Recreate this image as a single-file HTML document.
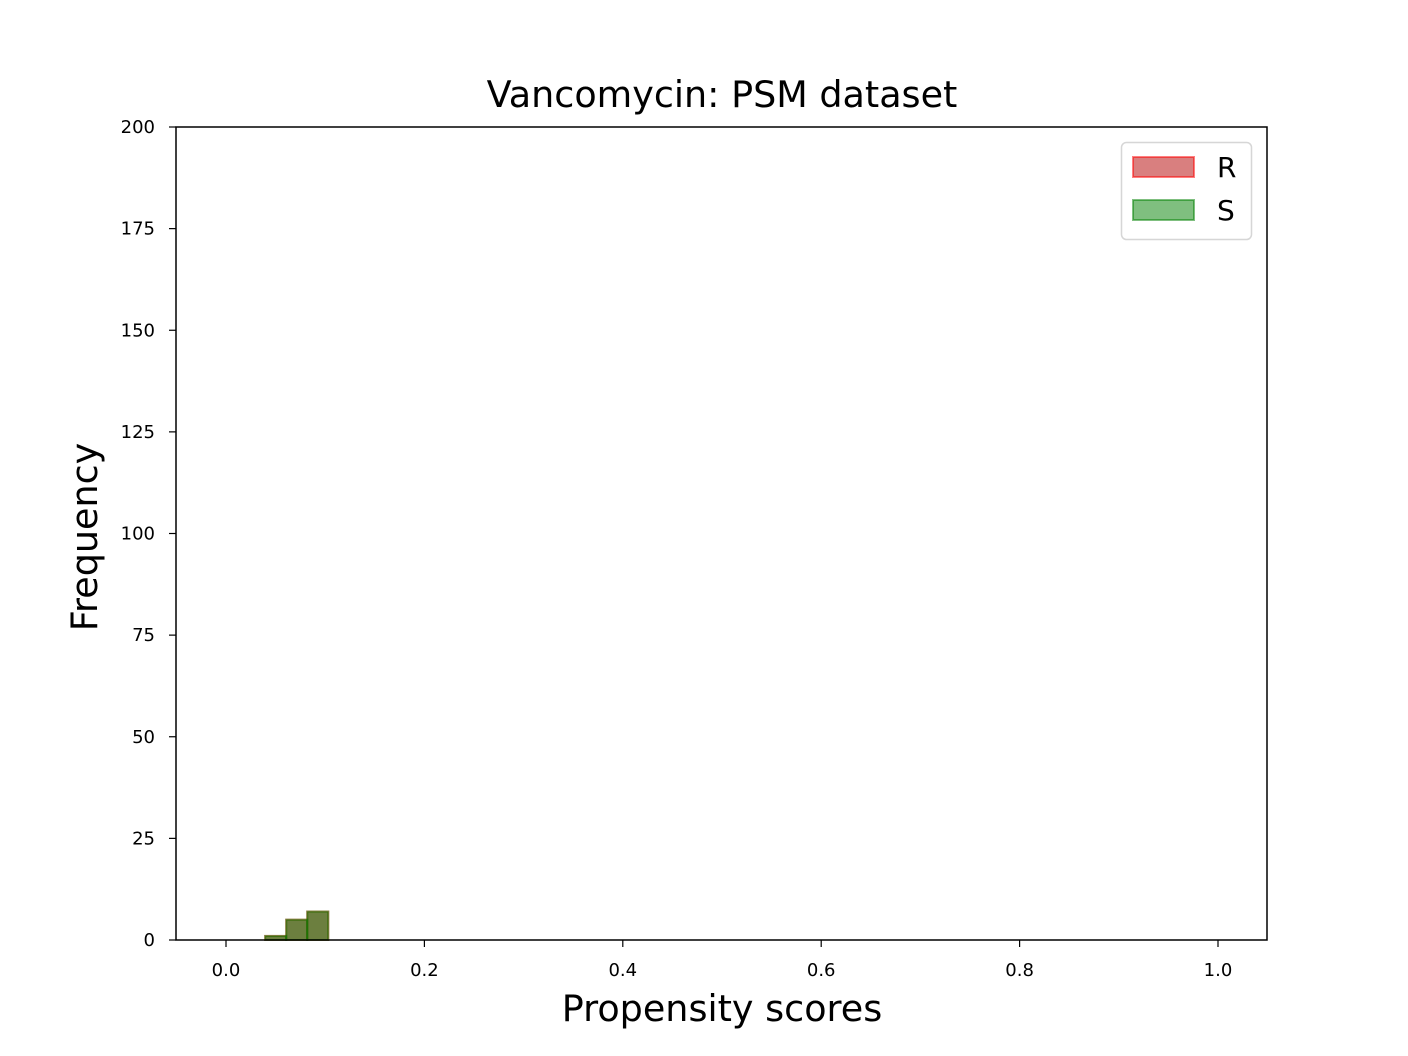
<!DOCTYPE html>
<html><head><meta charset="utf-8"><style>
body{margin:0;background:#fff}
svg{display:block;font-family:"DejaVu Sans","Liberation Sans",sans-serif}
</style></head><body>
<svg id="chart" width="1408" height="1056">
<text x="722" y="107" font-size="36.5" text-anchor="middle">Vancomycin: PSM dataset</text>
<g id="bars"></g>
<rect x="176" y="127" width="1091" height="813" fill="none" stroke="#000" stroke-width="1.5"/>
<g id="xticks"></g>
<g id="yticks"></g>
<text x="722" y="1021" font-size="36.5" text-anchor="middle">Propensity scores</text>
<text transform="translate(97,537) rotate(-90)" font-size="36.5" text-anchor="middle">Frequency</text>
<g>
<rect x="1121.5" y="142.5" width="130" height="97" rx="5" fill="#fff" stroke="#d6d6d6" stroke-width="1.5"/>
<rect x="1133" y="157" width="61" height="20" fill="rgba(180,0,0,0.5)" stroke="rgba(255,0,0,0.5)" stroke-width="2"/>
<text x="1217" y="177" font-size="28">R</text>
<rect x="1133" y="200" width="61" height="20" fill="rgba(0,128,0,0.5)" stroke="rgba(0,128,0,0.5)" stroke-width="2"/>
<text x="1217" y="220" font-size="28">S</text>
</g>
</svg>
<script>
const binStarts=[0.0395,0.0607,0.0819];
const rValues=[1,5,7];
const sValues=[1,5,7];
const binWidth=0.0212;
const xTicks=[0,0.2,0.4,0.6,0.8,1.0];
const xTickLabels=["0.0","0.2","0.4","0.6","0.8","1.0"];
const yTicks=[0,25,50,75,100,125,150,175,200];
const NS="http://www.w3.org/2000/svg";
function xs(v){return 226+v*992;}
function ys(v){return 940-v*(813/200);}
function mk(tag,attrs,parent){const e=document.createElementNS(NS,tag);for(const k in attrs)e.setAttribute(k,attrs[k]);parent.appendChild(e);return e;}
const bars=document.getElementById('bars');
function drawSeries(vals,fill,stroke,name){
 vals.forEach((v,i)=>{
  const x0=xs(binStarts[i]),x1=xs(binStarts[i]+binWidth);
  const r=mk('rect',{x:x0,y:ys(v),width:x1-x0,height:ys(0)-ys(v),fill:fill,stroke:stroke,'stroke-width':2},bars);
  
  
 });
}
drawSeries(rValues,'rgba(180,0,0,0.5)','rgba(255,0,0,0.5)','r');
drawSeries(sValues,'rgba(0,128,0,0.5)','rgba(0,128,0,0.5)','s');
const xg=document.getElementById('xticks');
xTicks.forEach((t,i)=>{
 const x=xs(t);
 const l=mk('line',{x1:x,x2:x,y1:940,y2:947,stroke:'#000','stroke-width':1.2},xg);
 
 
 const tx=mk('text',{x:x,y:976,'font-size':18,'text-anchor':'middle'},xg);
 tx.textContent=xTickLabels[i];
 
 
});
const yg=document.getElementById('yticks');
yTicks.forEach(t=>{
 const y=ys(t);
 const l=mk('line',{x1:169,x2:176,y1:y,y2:y,stroke:'#000','stroke-width':1.2},yg);
 
 
 const tx=mk('text',{x:155,y:y+6,'font-size':18,'text-anchor':'end'},yg);
 tx.textContent=String(t);
 
 
});
</script>
</body></html>
